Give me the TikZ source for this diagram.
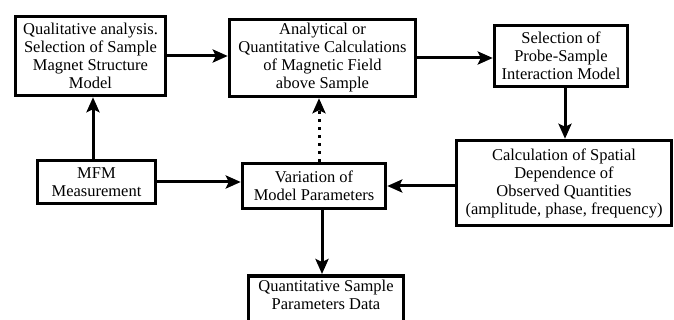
\documentclass[tikz,border=0pt]{standalone}
\usepackage{fontspec}
\setmainfont{Liberation Serif}
\newfontfamily\labelfont{Liberation Serif}
\usetikzlibrary{arrows.meta,calc}

\tikzset{
  stagebox/.style={draw, line width=3.5pt, fill=white, align=center, inner sep=1pt,
    font=\labelfont\fontsize{16.5}{18}\selectfont},
  flow/.style={line width=3pt, -{Stealth[length=15pt,width=13pt,inset=3pt]}},
  hint/.style={flow, dash pattern=on 3pt off 5pt},
}

\begin{document}
\begin{tikzpicture}[x=1pt,y=-1pt]
  \useasboundingbox (0,0) rectangle (674,320);

  % stages of the modelling procedure
  \node[stagebox, minimum width=150, minimum height=79] (qual) at (90.5,56)
    {Qualitative analysis.\\Selection of Sample\\Magnet Structure\\Model};
  \node[stagebox, minimum width=186, minimum height=77] (calc) at (322.5,58)
    {Analytical or\\Quantitative Calculations\\of Magnetic Field\\above Sample};
  \node[stagebox, minimum width=133, minimum height=61] (probe) at (561,56)
    {Selection of\\Probe-Sample\\Interaction Model};
  \node[stagebox, minimum width=118, minimum height=43] (mfm) at (96.5,182)
    {MFM\\Measurement};
  \node[stagebox, minimum width=143, minimum height=45] (vary) at (314,186)
    {Variation of\\Model Parameters};
  \node[stagebox, minimum width=215, minimum height=85] (spatial) at (564,183)
    {Calculation of Spatial\\Dependence of\\Observed Quantities\\(amplitude, phase, frequency)};
  \node[stagebox, minimum width=155, minimum height=70, anchor=north] (quant) at (326,274)
    {Quantitative Sample\\Parameters Data\\[14pt]};

  % connections
  \draw[flow] (qual.east) -- (qual.east -| calc.west);
  \draw[flow] (calc.east) -- (calc.east -| probe.west);
  \draw[flow] (probe.south -| 565,0) -- (spatial.north -| 565,0);
  \draw[flow] (spatial.west |- vary.east) -- (vary.east);
  \draw[flow] (mfm.east) -- (mfm.east -| vary.west);
  \draw[flow] (mfm.north -| 93,0) -- (qual.south -| 93,0);
  \draw[hint] (vary.north -| 319,0) -- (calc.south -| 319,0);
  \draw[flow] (vary.south -| 322,0) -- (quant.north -| 322,0);
\end{tikzpicture}
\end{document}
